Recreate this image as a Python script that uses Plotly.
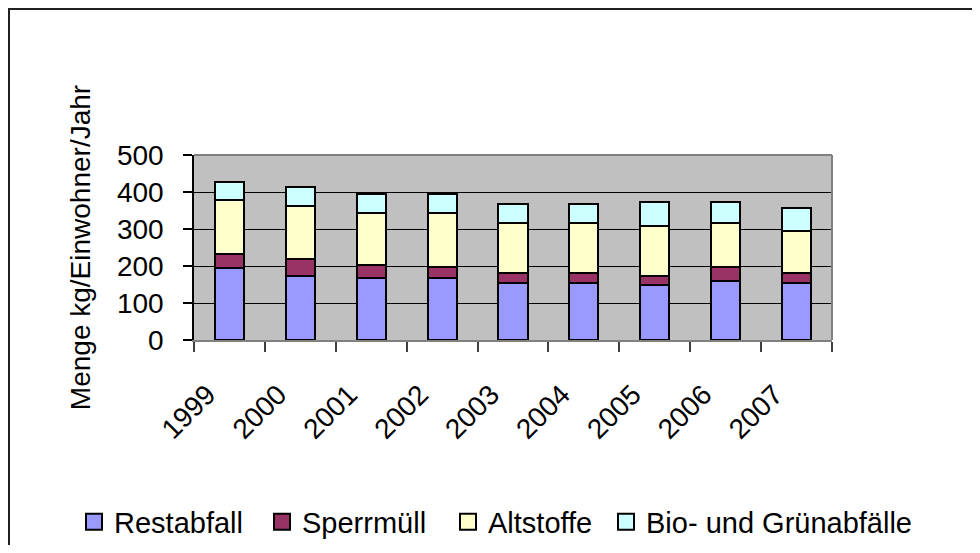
import plotly.graph_objects as go

years = ["1999", "2000", "2001", "2002", "2003", "2004", "2005", "2006", "2007"]
restabfall = [195, 174, 168, 168, 153, 153, 149, 159, 153]
sperrmuell = [37, 44, 34, 28, 29, 29, 25, 37, 27]
altstoffe = [146, 145, 142, 148, 133, 133, 134, 119, 115]
bio = [50, 51, 50, 50, 52, 52, 64, 57, 63]

series_names = ["Restabfall", "Sperrmüll", "Altstoffe", "Bio- und Grünabfälle"]
series_values = [restabfall, sperrmuell, altstoffe, bio]
series_colors = ["#9999FF", "#993366", "#FFFFCC", "#CCFFFF"]

y_ticks = [0, 100, 200, 300, 400, 500]

# page offset of the figure (browser body margin)
OFF = 8
W, H = 980 - 2 * OFF, 553 - 2 * OFF
L, T = 194 - OFF, 155 - OFF
pw, ph = 638, 185
R = W - L - pw
B = H - T - ph


def px_x(p):
    """page x pixel -> paper x"""
    return (p - OFF - L) / pw


def px_y(p):
    """page y pixel -> paper y"""
    return (T + ph - (p - OFF)) / ph


FONT = "Liberation Sans, Arial, sans-serif"
NB = "\u00a0"

legend_keys = ["legend", "legend2", "legend3", "legend4"]
legend_left_px = [74, 262, 448, 606]

fig = go.Figure()
for name, vals, col in zip(series_names, series_values, series_colors):
    fig.add_trace(go.Bar(
        x=years, y=vals, name=name, showlegend=False,
        marker=dict(color=col, line=dict(color="black", width=2)),
    ))
for name, col, lk in zip(series_names, series_colors, legend_keys):
    fig.add_trace(go.Scatter(
        x=[None], y=[None], name=name, mode="markers", legend=lk,
        marker=dict(symbol="square", size=16, color=col,
                    line=dict(color="black", width=2)),
    ))

layout_legends = {}
for lk, lx in zip(legend_keys, legend_left_px):
    layout_legends[lk] = dict(
        orientation="h", x=px_x(lx), xanchor="left",
        y=px_y(522), yanchor="middle",
        font=dict(size=29), itemwidth=30,
        bgcolor="rgba(0,0,0,0)",
    )

fig.update_layout(
    width=W, height=H,
    margin=dict(l=L, r=R, t=T, b=B, pad=0, autoexpand=False),
    barmode="stack", bargap=0.59,
    paper_bgcolor="white", plot_bgcolor="#C0C0C0",
    font=dict(family=FONT, size=28, color="black"),
    **layout_legends,
)

fig.update_xaxes(
    type="category", tickangle=-45, ticks="outside", ticklen=10,
    tickcolor="#404040", tickwidth=1.5, tickson="boundaries",
    showline=True, linecolor="#808080", linewidth=2,
    showgrid=False, ticklabelstandoff=3, ticksuffix=NB * 4,
    tickfont=dict(size=28),
)
fig.update_yaxes(
    range=[0, 500], tickvals=y_ticks, ticktext=[str(v) for v in y_ticks],
    ticks="outside", ticklen=9, tickcolor="black", tickwidth=1.5,
    showline=True, linecolor="black", linewidth=1.5,
    showgrid=True, gridcolor="black", gridwidth=1,
    zeroline=False, ticklabelstandoff=14,
    title=dict(text="Menge kg/Einwohner/Jahr", standoff=18, font=dict(size=28)),
    tickfont=dict(size=28),
)

# gray plot-area border (top and right)
fig.add_shape(type="line", xref="paper", yref="paper", x0=0, x1=1, y0=1, y1=1,
              line=dict(color="#808080", width=2))
fig.add_shape(type="line", xref="paper", yref="paper", x0=1, x1=1, y0=0, y1=1,
              line=dict(color="#808080", width=2))
# outer chart frame
fig.add_shape(type="rect", xref="paper", yref="paper",
              x0=px_x(9), x1=px_x(1000), y0=px_y(9), y1=px_y(580),
              line=dict(color="#202020", width=2), fillcolor="rgba(0,0,0,0)")

fig.write_html("out.html")
